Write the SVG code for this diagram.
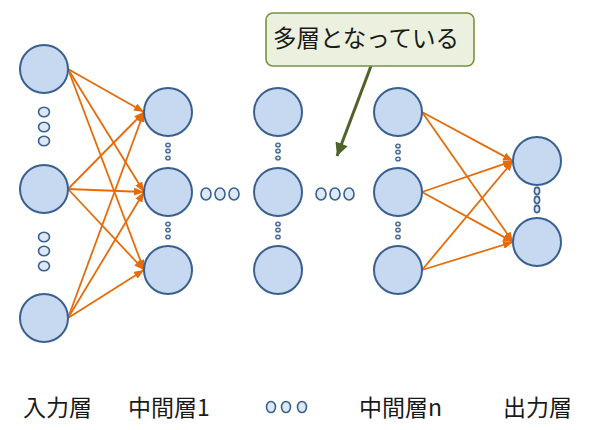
<svg xmlns="http://www.w3.org/2000/svg" width="590" height="430" viewBox="0 0 590 430">
<style>
.node{fill:#c6d9f1;stroke:#3a6090;stroke-width:2}
.dot{fill:#dce8f6;stroke:#3a6090;stroke-width:1.6}
.sdot{fill:#dce8f6;stroke:#3a6090;stroke-width:1.3}
.edge{stroke:#e46c0a;stroke-width:1.8;fill:none;marker-end:url(#oa)}
.lbl{font-family:"Noto Sans CJK JP","Noto Sans",sans-serif;font-size:23px;fill:#1a1a1a}
</style>
<defs>
<marker id="oa" viewBox="0 0 10 8" refX="10" refY="4" markerWidth="10" markerHeight="8" markerUnits="userSpaceOnUse" orient="auto">
<path d="M0,0 L10,4 L0,8 z" fill="#e46c0a"/>
</marker>
<marker id="ga" viewBox="0 0 12 12" refX="12" refY="6" markerWidth="14" markerHeight="13" markerUnits="userSpaceOnUse" orient="auto">
<path d="M0,0 L12,6 L0,12 z" fill="#4f6228"/>
</marker>
</defs>

<g id="connectors">
<line class="edge" x1="68" y1="69" x2="144" y2="112"/>
<line class="edge" x1="68" y1="69" x2="144" y2="192"/>
<line class="edge" x1="68" y1="69" x2="144" y2="270"/>
<line class="edge" x1="68" y1="189" x2="144" y2="112"/>
<line class="edge" x1="68" y1="189" x2="144" y2="192"/>
<line class="edge" x1="68" y1="189" x2="144" y2="270"/>
<line class="edge" x1="68" y1="318" x2="144" y2="112"/>
<line class="edge" x1="68" y1="318" x2="144" y2="192"/>
<line class="edge" x1="68" y1="318" x2="144" y2="270"/>
<line class="edge" x1="422" y1="112" x2="513" y2="161"/>
<line class="edge" x1="422" y1="112" x2="513" y2="242"/>
<line class="edge" x1="422" y1="192" x2="513" y2="161"/>
<line class="edge" x1="422" y1="192" x2="513" y2="242"/>
<line class="edge" x1="422" y1="270" x2="513" y2="161"/>
<line class="edge" x1="422" y1="270" x2="513" y2="242"/>
<line x1="371" y1="66" x2="337" y2="156" stroke="#4f6228" stroke-width="3" marker-end="url(#ga)"/>
</g>

<g id="input1"><circle class="node" cx="44" cy="69" r="24"/></g>
<g id="input2"><circle class="node" cx="44" cy="189" r="24"/></g>
<g id="input3"><circle class="node" cx="44" cy="318" r="24"/></g>
<g id="input-dots1">
<ellipse class="dot" cx="44" cy="112" rx="5.5" ry="4.7"/>
<ellipse class="dot" cx="44" cy="127" rx="5.5" ry="4.7"/>
<ellipse class="dot" cx="44" cy="141" rx="5.5" ry="4.7"/>
</g>
<g id="input-dots2">
<ellipse class="dot" cx="44" cy="237" rx="5.5" ry="4.7"/>
<ellipse class="dot" cx="44" cy="251" rx="5.5" ry="4.7"/>
<ellipse class="dot" cx="44" cy="266" rx="5.5" ry="4.7"/>
</g>

<g id="hidden1-1"><circle class="node" cx="168" cy="112" r="24"/></g>
<g id="hidden1-2"><circle class="node" cx="168" cy="192" r="24"/></g>
<g id="hidden1-3"><circle class="node" cx="168" cy="270" r="24"/></g>
<g id="hidden1-dots">
<ellipse class="sdot" cx="168" cy="145" rx="2.2" ry="1.9"/>
<ellipse class="sdot" cx="168" cy="151" rx="2.2" ry="1.9"/>
<ellipse class="sdot" cx="168" cy="158" rx="2.2" ry="1.9"/>
<ellipse class="sdot" cx="168" cy="224" rx="2.2" ry="1.9"/>
<ellipse class="sdot" cx="168" cy="230" rx="2.2" ry="1.9"/>
<ellipse class="sdot" cx="168" cy="237" rx="2.2" ry="1.9"/>
</g>

<g id="hdots-a">
<ellipse class="dot" cx="206" cy="194" rx="5" ry="6"/>
<ellipse class="dot" cx="220" cy="194" rx="5" ry="6"/>
<ellipse class="dot" cx="234" cy="194" rx="5" ry="6"/>
</g>

<g id="hiddenm-1"><circle class="node" cx="278" cy="112" r="24"/></g>
<g id="hiddenm-2"><circle class="node" cx="278" cy="192" r="24"/></g>
<g id="hiddenm-3"><circle class="node" cx="278" cy="270" r="24"/></g>
<g id="hiddenm-dots">
<ellipse class="sdot" cx="278" cy="145" rx="2.2" ry="1.9"/>
<ellipse class="sdot" cx="278" cy="151" rx="2.2" ry="1.9"/>
<ellipse class="sdot" cx="278" cy="158" rx="2.2" ry="1.9"/>
<ellipse class="sdot" cx="278" cy="224" rx="2.2" ry="1.9"/>
<ellipse class="sdot" cx="278" cy="230" rx="2.2" ry="1.9"/>
<ellipse class="sdot" cx="278" cy="237" rx="2.2" ry="1.9"/>
</g>

<g id="hdots-b">
<ellipse class="dot" cx="321" cy="194" rx="5" ry="6"/>
<ellipse class="dot" cx="335" cy="194" rx="5" ry="6"/>
<ellipse class="dot" cx="349" cy="194" rx="5" ry="6"/>
</g>

<g id="hiddenn-1"><circle class="node" cx="398" cy="112" r="24"/></g>
<g id="hiddenn-2"><circle class="node" cx="398" cy="192" r="24"/></g>
<g id="hiddenn-3"><circle class="node" cx="398" cy="270" r="24"/></g>
<g id="hiddenn-dots">
<ellipse class="sdot" cx="398" cy="146" rx="2.2" ry="1.9"/>
<ellipse class="sdot" cx="398" cy="152" rx="2.2" ry="1.9"/>
<ellipse class="sdot" cx="398" cy="159" rx="2.2" ry="1.9"/>
<ellipse class="sdot" cx="398" cy="224" rx="2.2" ry="1.9"/>
<ellipse class="sdot" cx="398" cy="230" rx="2.2" ry="1.9"/>
<ellipse class="sdot" cx="398" cy="237" rx="2.2" ry="1.9"/>
</g>

<g id="output1"><circle class="node" cx="537" cy="161" r="24"/></g>
<g id="output2"><circle class="node" cx="537" cy="242" r="24"/></g>
<g id="output-dots">
<ellipse class="dot" cx="537" cy="191" rx="2.6" ry="3.6"/>
<ellipse class="dot" cx="537" cy="200" rx="2.6" ry="3.6"/>
<ellipse class="dot" cx="537" cy="209" rx="2.6" ry="3.6"/>
</g>

<g id="callout">
<rect x="266" y="13" width="208" height="53" rx="7" fill="#ebf1de" stroke="#77933c" stroke-width="1.6"/>
<text x="273" y="47" font-family="Noto Sans CJK JP, Noto Sans, sans-serif" font-size="23.5" fill="#1a1a1a">多層となっている</text>
</g>

<g id="labels">
<text class="lbl" x="23" y="416">入力層</text>
<text class="lbl" x="128" y="416">中間層1</text>
<g id="label-dots">
<ellipse class="dot" cx="271" cy="407" rx="4.5" ry="5.5"/>
<ellipse class="dot" cx="286" cy="407" rx="4.5" ry="5.5"/>
<ellipse class="dot" cx="302" cy="407" rx="4.5" ry="5.5"/>
</g>
<text class="lbl" x="359" y="416">中間層n</text>
<text class="lbl" x="503" y="416">出力層</text>
</g>
</svg>
